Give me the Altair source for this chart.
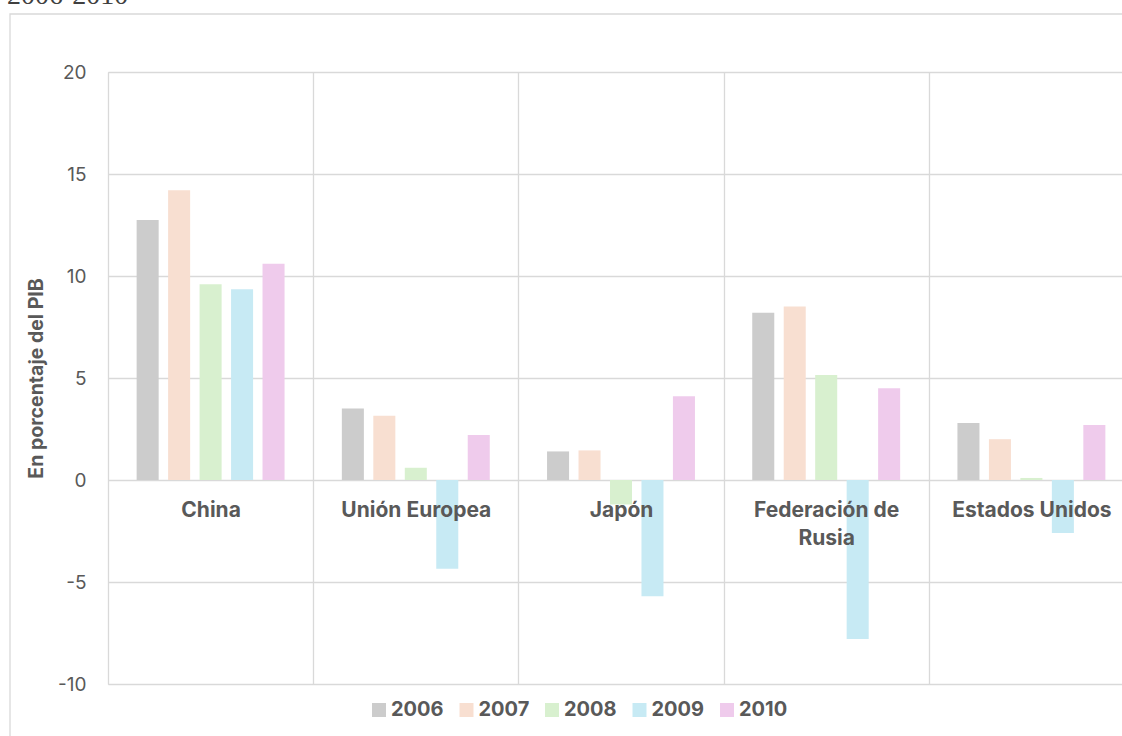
import altair as alt
import pandas as pd

# ---- data ----
countries = ["China", "Unión Europea", "Japón", "Federación de Rusia", "Estados Unidos"]
years = ["2006", "2007", "2008", "2009", "2010"]
v2006 = [12.75, 3.5, 1.4, 8.2, 2.8]
v2007 = [14.2, 3.15, 1.45, 8.5, 2.0]
v2008 = [9.6, 0.6, -1.2, 5.15, 0.1]
v2009 = [9.35, -4.35, -5.7, -7.8, -2.6]
v2010 = [10.6, 2.2, 4.1, 4.5, 2.7]
colors = ["#cccccc", "#f8dfd1", "#d8f0cf", "#c7eaf4", "#efcbec"]
y_ticks = [-10, -5, 0, 5, 10, 15, 20]
y_title = "En  porcentaje del PIB"
header_text = "2006-2010"

series = [v2006, v2007, v2008, v2009, v2010]
rows = []
for yr, vals in zip(years, series):
    for c, v in zip(countries, vals):
        rows.append({"country": c, "year": yr, "value": v})
df = pd.DataFrame(rows)

grey_text = "#595959"
grid_col = "#d9d9d9"

bars = alt.Chart(df).mark_bar().encode(
    x=alt.X(
        "country:N",
        sort=countries,
        scale=alt.Scale(paddingInner=0, paddingOuter=0),
        axis=alt.Axis(
            title=None,
            offset=-204,
            zindex=1,
            domain=False,
            ticks=False,
            grid=True,
            tickBand="extent",
            gridColor=grid_col,
            gridWidth=1.3,
            labelAngle=0,
            labelFont="Inter",
            labelFontSize=21,
            labelFontWeight="bold",
            labelColor=grey_text,
            labelPadding=19,
            labelLineHeight=28,
            labelLimit=300,
            labelExpr="datum.value == 'Federación de Rusia' ? ['Federación de', 'Rusia'] : datum.label",
        ),
    ),
    xOffset=alt.XOffset("year:N", sort=years, scale=alt.Scale(paddingInner=0.3, paddingOuter=0.91)),
    y=alt.Y(
        "value:Q",
        scale=alt.Scale(domain=[-10, 20], nice=False, zero=False),
        axis=alt.Axis(
            values=y_ticks,
            title=y_title,
            domain=False,
            ticks=False,
            grid=True,
            gridColor=grid_col,
            gridWidth=1.3,
            labelExpr="'' + datum.value",
            labelFont="Inter",
            labelFontSize=19,
            labelColor=grey_text,
            labelPadding=22,
            titleFont="Inter",
            titleFontSize=19.5,
            titleFontWeight="bold",
            titleColor=grey_text,
            titleX=-72,
            titleBaseline="middle",
        ),
    ),
    color=alt.Color(
        "year:N",
        sort=years,
        scale=alt.Scale(domain=years, range=colors),
        legend=alt.Legend(
            title=None,
            orient="none",
            legendX=261,
            legendY=628,
            direction="horizontal",
            symbolType="square",
            symbolSize=196,
            symbolStrokeWidth=0,
            symbolOpacity=1,
            labelFont="Inter",
            labelFontSize=20,
            labelFontWeight="bold",
            labelColor=grey_text,
            labelOffset=2,
            columnPadding=12.5,
        ),
    ),
)

frame = alt.Chart(alt.Data(values=[{"k": 1}])).mark_rect(
    fillOpacity=0, stroke=grid_col, strokeWidth=1.3
).encode(
    x=alt.value(-98), x2=alt.value(1300), y=alt.value(-58), y2=alt.value(900)
)

header = alt.Chart(alt.Data(values=[{"t": header_text}])).mark_text(
    align="left", baseline="alphabetic", font="Liberation Serif", fontSize=28, color="#404040"
).encode(
    text="t:N", x=alt.value(-101), y=alt.value(-68)
)

chart = alt.layer(frame, bars, header).properties(
    width=1026,
    height=612,
    autosize=alt.AutoSizeParams(type="none"),
    padding={"left": 108, "top": 72, "right": -12, "bottom": 52},
).configure_view(strokeWidth=0).configure(background="white")

chart.save("out.html", embed_options={"renderer": "svg", "actions": False})
